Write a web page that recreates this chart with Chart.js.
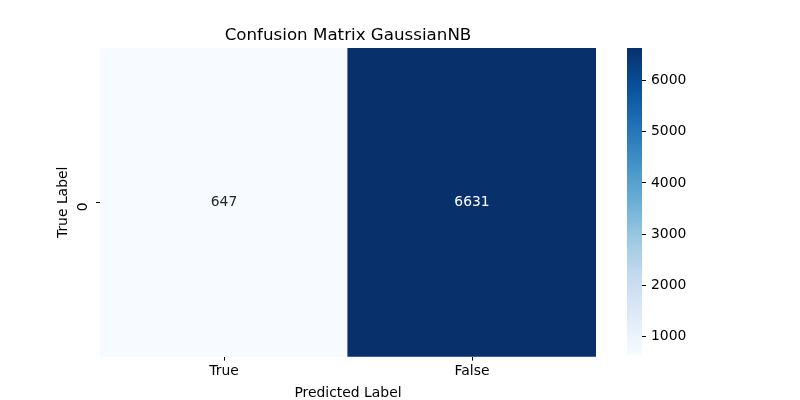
<!DOCTYPE html>
<html>
<head>
<meta charset="utf-8">
<script src="https://cdn.jsdelivr.net/npm/chart.js@4"></script>
<style>
  html, body { margin: 0; padding: 0; background: #fff; }
  #wrap { position: relative; width: 800px; height: 400px; }
  #heat { position: absolute; left: 0; top: 0; }
  #cbar { position: absolute; left: 600px; top: 0; }
</style>
</head>
<body>
<div id="wrap">
  <canvas id="heat" width="800" height="400"></canvas>
  <canvas id="cbar" width="200" height="400"></canvas>
</div>
<script>
/* ---------- DATA ---------- */

const predictedLabels = ["True", "False"];
const trueLabels = ["0"];
const cellCounts = [647, 6631];
const colorbarTicks = [1000, 2000, 3000, 4000, 5000, 6000];

const vmin = Math.min(...cellCounts);
const vmax = Math.max(...cellCounts);

/* ---------- BLUES COLORMAP ---------- */

const BLUES = ["#f7fbff", "#deebf7", "#c6dbef", "#9ecae1", "#6baed6",
               "#4292c6", "#2171b5", "#08519c", "#08306b"];

function hexToRgb(h) {
  return [parseInt(h.slice(1, 3), 16), parseInt(h.slice(3, 5), 16), parseInt(h.slice(5, 7), 16)];
}

function blues(t) {
  t = Math.max(0, Math.min(1, t));
  const pos = t * (BLUES.length - 1);
  const i = Math.min(Math.floor(pos), BLUES.length - 2);
  const f = pos - i;
  const a = hexToRgb(BLUES[i]), b = hexToRgb(BLUES[i + 1]);
  const c = a.map((v, k) => Math.round(v + (b[k] - v) * f));
  return "rgb(" + c.join(",") + ")";
}

function norm(v) { return (v - vmin) / (vmax - vmin); }

const FONT = "'DejaVu Sans', sans-serif";
const FS = 13.9;
Chart.defaults.font.family = FONT;
Chart.defaults.color = "#000";
Chart.defaults.animation = false;

/* ---------- CELL LABELS ---------- */

const cellText = {
  id: "cellText",
  afterDatasetsDraw(chart) {
    const ctx = chart.ctx;
    const meta = chart.getDatasetMeta(0);
    ctx.save();
    ctx.font = FS + "px " + FONT;
    ctx.textAlign = "center";
    ctx.textBaseline = "middle";
    meta.data.forEach((bar, i) => {
      const v = cellCounts[i];
      ctx.fillStyle = norm(v) > 0.5 ? "#fff" : "#262626";
      const y = chart.scales.y.getPixelForValue(0.5);
      ctx.fillText(String(v), bar.x, y);
    });
    ctx.restore();
  }
};

/* ---------- HEATMAP ---------- */

new Chart(document.getElementById("heat").getContext("2d"), {
  type: "bar",
  data: {
    labels: predictedLabels,
    datasets: [{
      data: cellCounts.map(() => [0, 1]),
      backgroundColor: cellCounts.map(v => blues(norm(v))),
      borderWidth: 0,
      inflateAmount: 0.6,
      barPercentage: 1,
      categoryPercentage: 1
    }]
  },
  options: {
    responsive: false,
    layout: { padding: { left: 46, right: 204, top: 26, bottom: 0 } },
    plugins: {
      legend: { display: false },
      tooltip: { enabled: false },
      title: {
        display: true,
        fullSize: false,
        text: "Confusion Matrix GaussianNB",
        font: { size: 16.7, weight: "normal" },
        color: "#000",
        padding: { top: 0, bottom: 2 }
      }
    },
    scales: {
      x: {
        grid: { display: true, offset: false, drawOnChartArea: false, drawTicks: true, tickLength: 4, tickColor: "#000" },
        border: { display: false },
        ticks: { font: { size: FS }, color: "#000", padding: 2, maxRotation: 0 },
        title: { display: true, text: "Predicted Label", font: { size: FS }, color: "#000", padding: { top: 4, bottom: -2 } }
      },
      y: {
        min: 0,
        max: 1,
        afterBuildTicks(scale) { scale.ticks = [{ value: 0.5 }]; },
        afterFit(scale) { scale.width = 54; },
        grid: { drawOnChartArea: false, drawTicks: true, tickLength: 4, tickColor: "#000" },
        border: { display: false },
        ticks: {
          font: { size: FS },
          color: "#000",
          padding: 13,
          minRotation: 90,
          maxRotation: 90,
          callback: () => trueLabels[0]
        },
        title: { display: true, text: "True Label", font: { size: FS }, color: "#000", padding: { top: 9, bottom: 0 } }
      }
    }
  },
  plugins: [cellText]
});

/* ---------- COLORBAR ---------- */

const gradientFill = {
  id: "gradientFill",
  beforeDatasetsDraw(chart) {
    const y = chart.scales.y;
    const g = chart.ctx.createLinearGradient(0, y.getPixelForValue(vmin), 0, y.getPixelForValue(vmax));
    for (let i = 0; i <= 20; i++) g.addColorStop(i / 20, blues(i / 20));
    chart.getDatasetMeta(0).data.forEach(el => { el.options.backgroundColor = g; });
  }
};

new Chart(document.getElementById("cbar").getContext("2d"), {
  type: "bar",
  data: {
    labels: [""],
    datasets: [{
      data: [[vmin, vmax]],
      backgroundColor: "#4292c6",
      borderWidth: 0,
      barPercentage: 1,
      categoryPercentage: 1
    }]
  },
  options: {
    responsive: false,
    layout: { padding: { left: 27, right: 108, top: 48, bottom: 45 } },
    plugins: { legend: { display: false }, tooltip: { enabled: false } },
    scales: {
      x: { display: false },
      y: {
        position: "right",
        min: vmin,
        max: vmax,
        afterBuildTicks(scale) { scale.ticks = colorbarTicks.map(v => ({ value: v })); },
        afterFit(scale) { scale.width = 50; },
        grid: { drawOnChartArea: false, drawTicks: true, tickLength: 4, tickColor: "#000" },
        border: { display: false },
        ticks: { font: { size: FS }, color: "#000", padding: 5, callback: v => String(v) }
      }
    }
  },
  plugins: [gradientFill]
});
</script>
</body>
</html>
